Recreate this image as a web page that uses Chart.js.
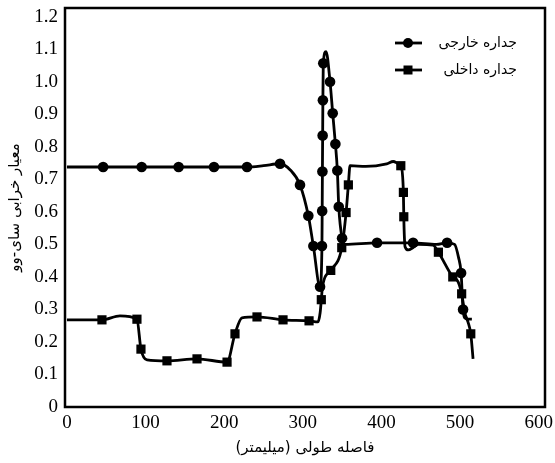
<!DOCTYPE html>
<html>
<head>
<meta charset="utf-8">
<script src="https://cdn.jsdelivr.net/npm/chart.js@4.4.0/dist/chart.umd.min.js"></script>
<style>
  body { margin: 0; background: #fff; }
</style>
</head>
<body>
<canvas id="saiWu" width="555" height="463" dir="rtl"></canvas>
<script>
// tick labels
var xTicks = [0, 100, 200, 300, 400, 500, 600];
var yTicks = [0, 0.1, 0.2, 0.3, 0.4, 0.5, 0.6, 0.7, 0.8, 0.9, 1.0, 1.1, 1.2];
var yTickLabels = ['0', '0.1', '0.2', '0.3', '0.4', '0.5', '0.6', '0.7', '0.8', '0.9', '1.0', '1.1', '1.2'];

var seriesNames = ['جداره خارجی', 'جداره داخلی'];

// جداره خارجی - curve
var outerX = [0, 46, 95, 142, 187, 229, 250, 271, 284, 296.4, 307, 313.4, 321.9, 324.3, 324.6, 324.9, 325.2, 325.5, 326, 329.5,
              334.6, 338, 341.4, 343.9, 345.7, 349.9, 354, 394.4, 440.2, 470, 483.5, 493, 498, 501.3, 503.8, 507, 515];
var outerY = [0.738, 0.738, 0.738, 0.738, 0.738, 0.738, 0.742, 0.748, 0.729, 0.683, 0.588, 0.495, 0.37, 0.495, 0.603, 0.724, 0.835, 0.943, 1.057, 1.093,
              1.0, 0.903, 0.809, 0.727, 0.616, 0.519, 0.5, 0.505, 0.505, 0.5, 0.505, 0.5, 0.46, 0.412, 0.30, 0.272, 0.27];
// جداره خارجی - markers
var outerMarkX = [46, 95, 142, 187, 229, 271, 296.4, 307, 313.4, 321.9, 324.3, 324.6, 324.9, 325.2, 325.5, 326,
                  334.6, 338, 341.4, 343.9, 345.7, 349.9, 394.4, 440.2, 483.5, 501.3, 503.8];
var outerMarkY = [0.738, 0.738, 0.738, 0.738, 0.738, 0.748, 0.683, 0.588, 0.495, 0.37, 0.495, 0.603, 0.724, 0.835, 0.943, 1.057,
                  1.0, 0.903, 0.809, 0.727, 0.616, 0.519, 0.505, 0.505, 0.505, 0.412, 0.30];

// جداره داخلی - curve
var innerX = [0, 44.5, 67.4, 89, 94.1, 101.8, 127.2, 165.4, 203.6, 213.7, 222.6, 241.7, 274.8, 307.9, 319.3, 322, 323.5, 325,
              335.5, 349.5, 355, 357.9, 360, 380, 406.7, 415, 421.5, 424.6, 427.9, 428.4, 430, 434.2, 440, 447, 465.6, 472.4,
              490.7, 497.5, 502, 506, 510, 513.6, 516.5];
var innerY = [0.268, 0.268, 0.28, 0.27, 0.178, 0.145, 0.142, 0.148, 0.138, 0.225, 0.274, 0.277, 0.268, 0.265, 0.262, 0.29, 0.33, 0.37,
              0.42, 0.49, 0.598, 0.683, 0.742, 0.74, 0.748, 0.755, 0.748, 0.742, 0.66, 0.585, 0.493, 0.483, 0.49, 0.5, 0.498, 0.476,
              0.40, 0.385, 0.348, 0.29, 0.262, 0.225, 0.148];
// جداره داخلی - markers
var innerMarkX = [44.5, 89, 94.1, 127.2, 165.4, 203.6, 213.7, 241.7, 274.8, 307.9, 323.5, 335.5, 349.5, 355, 357.9,
                  424.6, 427.9, 428.4, 472.4, 490.7, 502, 513.6];
var innerMarkY = [0.268, 0.27, 0.178, 0.142, 0.148, 0.138, 0.225, 0.277, 0.268, 0.265, 0.33, 0.42, 0.49, 0.598, 0.683,
                  0.742, 0.66, 0.585, 0.476, 0.40, 0.348, 0.225];

function pts(xs, ys) {
    return xs.map(function (x, i) { return { x: x, y: ys[i] }; });
}

// frame round the plot
var framePlugin = {
    id: 'frame',
    afterDraw: function (chart) {
        var a = chart.chartArea, ctx = chart.ctx;
        ctx.save();
        ctx.strokeStyle = '#000';
        ctx.lineWidth = 2.5;
        ctx.strokeRect(a.left, a.top, a.right - a.left, a.bottom - a.top);
        ctx.restore();
    }
};

// legend: line + marker, text on the right
var legendPlugin = {
    id: 'legendBox',
    afterDraw: function (chart) {
        var ctx = chart.ctx;
        ctx.save();
        seriesNames.forEach(function (name, i) {
            var y = 43 + i * 27;
            ctx.strokeStyle = '#000';
            ctx.fillStyle = '#000';
            ctx.lineWidth = 2.8;
            ctx.beginPath();
            ctx.moveTo(395, y);
            ctx.lineTo(422, y);
            ctx.stroke();
            if (i === 0) {
                ctx.beginPath();
                ctx.arc(408, y, 5, 0, Math.PI * 2);
                ctx.fill();
            } else {
                ctx.fillRect(408 - 4.5, y - 4.5, 9, 9);
            }
            ctx.font = '14px "DejaVu Sans"';
            ctx.textAlign = 'right';
            ctx.textBaseline = 'middle';
            ctx.fillText(name, 517, y);
        });
        ctx.restore();
    }
};

var ctx = document.getElementById('saiWu').getContext('2d');
var chart = new Chart(ctx, {
    type: 'line',
    data: {
        datasets: [{
            label: seriesNames[0],
            data: pts(outerX, outerY),
            borderColor: '#000',
            borderWidth: 2.8,
            pointRadius: 0,
            cubicInterpolationMode: 'monotone'
        }, {
            label: seriesNames[1],
            data: pts(innerX, innerY),
            borderColor: '#000',
            borderWidth: 2.8,
            pointRadius: 0,
            cubicInterpolationMode: 'monotone'
        }, {
            label: seriesNames[0],
            data: pts(outerMarkX, outerMarkY),
            showLine: false,
            pointStyle: 'circle',
            pointRadius: 5.3,
            pointBorderWidth: 0,
            backgroundColor: '#000'
        }, {
            label: seriesNames[1],
            data: pts(innerMarkX, innerMarkY),
            showLine: false,
            pointStyle: 'rect',
            pointRadius: 6.5,
            pointBorderWidth: 0,
            backgroundColor: '#000'
        }]
    },
    options: {
        responsive: false,
        animation: false,
        devicePixelRatio: 1,
        layout: { padding: { top: 8, right: 10, left: 0, bottom: 0 } },
        plugins: { legend: { display: false }, tooltip: { enabled: false } },
        scales: {
            x: {
                type: 'linear',
                min: -2.5,
                max: 608,
                grid: { display: false, drawTicks: false },
                border: { display: false },
                afterBuildTicks: function (scale) {
                    scale.ticks = xTicks.map(function (v) { return { value: v }; });
                },
                afterFit: function (scale) {
                    scale.height = 56;
                    scale.paddingLeft = 0;
                    scale.paddingRight = 0;
                },
                ticks: {
                    padding: 7,
                    color: '#000',
                    maxRotation: 0,
                    autoSkip: false,
                    font: { family: '"Liberation Serif"', size: 19, lineHeight: 1.0 }
                },
                title: {
                    display: true,
                    text: 'فاصله طولی (میلیمتر)',
                    color: '#000',
                    padding: { top: 0, bottom: 6 },
                    font: { family: '"DejaVu Sans"', size: 15 }
                }
            },
            y: {
                min: 0,
                max: 1.227,
                grid: { display: false, drawTicks: false },
                border: { display: false },
                afterBuildTicks: function (scale) {
                    scale.ticks = yTicks.map(function (v) { return { value: v }; });
                },
                afterFit: function (scale) {
                    scale.width = 65;
                    scale.paddingTop = 0;
                    scale.paddingBottom = 0;
                },
                ticks: {
                    padding: 7,
                    color: '#000',
                    autoSkip: false,
                    font: { family: '"Liberation Serif"', size: 19, lineHeight: 0.8 },
                    callback: function (v, i) { return yTickLabels[i]; }
                },
                title: {
                    display: true,
                    text: 'معیار خرابی سای-وو',
                    color: '#000',
                    padding: { top: 6, bottom: 0 },
                    font: { family: '"DejaVu Sans"', size: 15 }
                }
            }
        }
    },
    plugins: [framePlugin, legendPlugin]
});
</script>
</body>
</html>
